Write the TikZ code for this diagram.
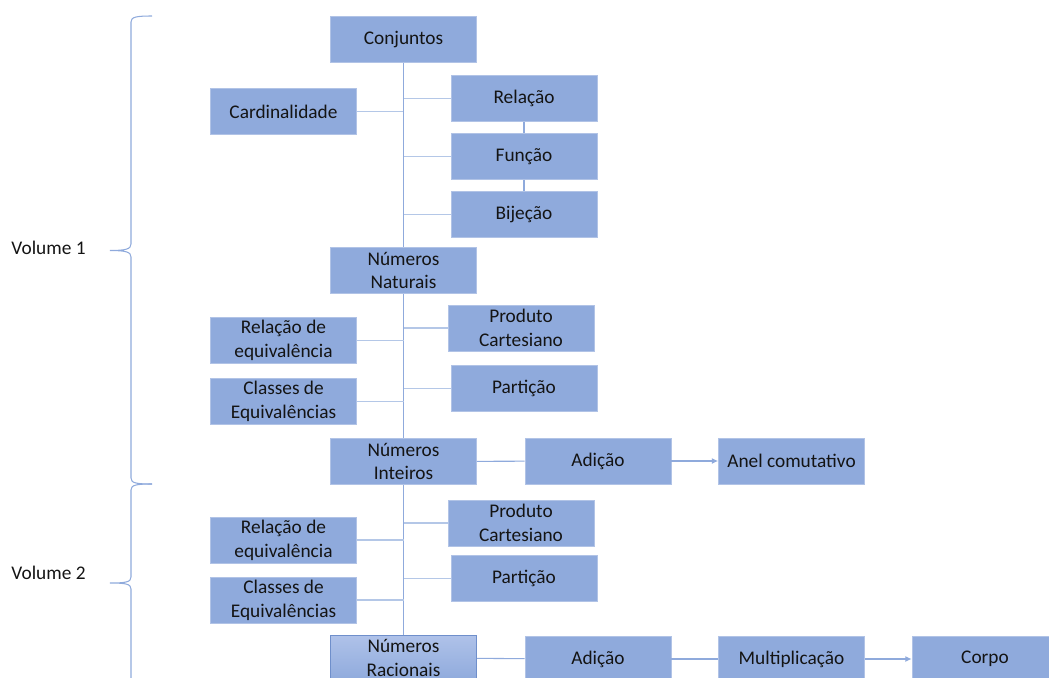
\documentclass[tikz,border=0pt]{standalone}
\usepackage{fontspec}
\setmainfont{Carlito}
\usepackage{tikz}
\usetikzlibrary{positioning}
\usetikzlibrary{arrows.meta}
\definecolor{boxfill}{HTML}{8FAADC}
\definecolor{boxtop}{HTML}{AFC2E9}
\definecolor{boxedge}{HTML}{6F8FCB}
\definecolor{trunkcol}{HTML}{8FAADC}
\definecolor{twigcol}{HTML}{B4C7E7}
\definecolor{txtcol}{HTML}{141414}

\begin{document}
\begin{tikzpicture}[x=0.02cm,y=-0.02cm,
  topic/.style={
    rectangle,
    fill=boxfill,
    draw=boxfill!70!white,
    line width=0.4pt,
    minimum width=2.92cm,
    minimum height=0.92cm,
    inner sep=1pt,
    align=center,
    text=txtcol,
    font=\fontsize{11}{13.5}\selectfont},
  newtopic/.style={
    topic,
    top color=boxtop,
    bottom color=boxfill,
    draw=boxedge},
  trunk/.style={draw=trunkcol,line width=0.6pt},
  twig/.style={draw=twigcol,line width=0.6pt},
  dep/.style={trunk,-{Latex[length=3.6pt,width=3.4pt]}},
  vol/.style={text=txtcol,font=\fontsize{11}{13}\selectfont},
]

  \clip (0,0) rectangle (1049,677);

  % Volume 1
  \node[topic] (conj) at (403.5,39.5) {Conjuntos};
  \node[topic] (card) at (283.5,111.5) {Cardinalidade};
  \draw[twig] (card.east) -- (card.east -| conj.south);
  \foreach \name/\txt/\y in {rel/Relação/98.5, fun/Função/156.5, bij/Bijeção/214.5} {
    \node[topic] (\name) at (524,\y) {\txt};
    \draw[twig] (\name.west) -- (\name.west -| conj.south);
  }
  \draw[trunk] (rel.south) -- (fun.north);
  \draw[trunk] (fun.south) -- (bij.north);

  \node[topic] (nat) at (403.5,270.5) {Números\\Naturais};
  \node[topic] (releq_1) at (283.5,340.5) {Relação de\\equivalência};
  \node[topic] (cls_1) at (283.5,401.5) {Classes de\\Equivalências};
  \node[topic] (prod_1) at (521,328) {Produto\\Cartesiano};
  \node[topic] (part_1) at (524,388.5) {Partição};

  \node[topic] (int) at (403.5,461.5) {Números\\Inteiros};
  \node[topic] (add_1) at (598,461) {Adição};
  \node[topic] (anel) at (791.5,461) {Anel comutativo};

  % Volume 2
  \node[topic] (releq_2) at (283.5,540) {Relação de\\equivalência};
  \node[topic] (cls_2) at (283.5,600) {Classes de\\Equivalências};
  \node[topic] (prod_2) at (521,523) {Produto\\Cartesiano};
  \node[topic] (part_2) at (524,578.5) {Partição};

  \node[newtopic] (rac) at (403.5,658) {Números\\Racionais};
  \node[topic] (add_2) at (598,659) {Adição};
  \node[topic] (mult) at (791.5,659) {Multiplicação};
  \node[topic] (corpo) at (985,659) {Corpo};

  % trunk
  \draw[trunk] (conj) -- (nat);
  \draw[trunk] (nat) -- (int);
  \draw[trunk] (int) -- (rac);

  \foreach \i in {1,2} {
    \draw[twig] (releq_\i.east) -- (releq_\i.east -| conj.south);
    \draw[twig] (cls_\i.east) -- (cls_\i.east -| conj.south);
    \draw[twig] (prod_\i.west) -- (prod_\i.west -| conj.south);
    \draw[twig] (part_\i.west) -- (part_\i.west -| conj.south);
  }

  \draw[trunk] (int) -- (add_1);
  \draw[dep] (add_1) -- (anel);
  \draw[trunk] (rac) -- (add_2);
  \draw[trunk] (add_2) -- (mult);
  \draw[dep] (mult) -- (corpo);

  % braces
  \node[vol] (vol_1) at (48.5,248) {Volume 1};
  \node[vol] (vol_2) at (48.5,573) {Volume 2};

  \coordinate (tip_1) at (110,250.5);
  \coordinate (tip_2) at (110,583);

  \draw[trunk]
    (152,16) .. controls (136,16) and (131,17) .. (131,22)
    -- (131,244) .. controls (131,249) and (126,250.5) .. (tip_1)
    .. controls (126,250.5) and (131,252) .. (131,257)
    -- (131,478) .. controls (131,483) and (136,484) .. (152,484);
  \draw[trunk]
    (152,484) .. controls (136,484) and (131,485) .. (131,490)
    -- (131,577) .. controls (131,582) and (126,583) .. (tip_2)
    .. controls (126,583) and (131,584) .. (131,589)
    -- (131,690);

\end{tikzpicture}
\end{document}
